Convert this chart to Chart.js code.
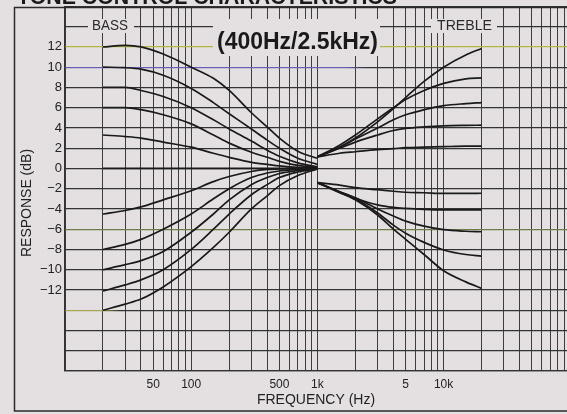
<!DOCTYPE html>
<html>
<head>
<meta charset="utf-8">
<script src="https://cdn.jsdelivr.net/npm/chart.js@4.4.1/dist/chart.umd.min.js"></script>
<style>
  html, body { margin: 0; padding: 0; background: #e4e0e1; overflow: hidden; }
  #chart { display: block; }
</style>
</head>
<body>
<canvas id="chart" width="567" height="414"></canvas>
<script>
// FREQUENCIES (Hz)
var bassFreq = [20, 30, 40, 60, 100, 150, 200, 300, 400, 500, 700, 1000];
var trebleFreq = [1000, 1500, 2000, 3000, 4000, 5000, 7000, 10000, 15000, 20000];

// BASS CURVES (dB)
var bassBoost1 = [12.0, 12.15, 12.0, 11.3, 10.0, 8.9, 7.7, 5.5, 4.1, 3.0, 1.7, 1.0];
var bassBoost2 = [10.0, 9.95, 9.8, 9.2, 7.9, 6.5, 5.4, 3.9, 2.8, 2.0, 1.0, 0.4];
var bassBoost3 = [8.0, 8.0, 7.7, 7.1, 6.0, 4.8, 3.9, 2.7, 1.8, 1.2, 0.55, 0.15];
var bassBoost4 = [6.0, 6.0, 5.8, 5.3, 4.4, 3.3, 2.5, 1.6, 1.1, 0.7, 0.3, 0.1];
var bassBoost5 = [3.3, 3.15, 3.0, 2.6, 2.1, 1.5, 1.1, 0.6, 0.4, 0.25, 0.1, 0.05];
var bassFlat   = [0, 0, 0, 0, 0, 0, 0, 0, 0, 0, 0, 0];
var bassCut1 = [-4.5, -4.15, -3.8, -3.1, -2.2, -1.3, -0.8, -0.3, -0.1, -0.05, 0, 0];
var bassCut2 = [-8.0, -7.5, -7.0, -6.0, -4.5, -3.0, -2.0, -0.9, -0.45, -0.25, -0.1, 0];
var bassCut3 = [-10.0, -9.5, -9.1, -8.2, -6.3, -4.5, -3.1, -1.6, -0.9, -0.5, -0.2, 0];
var bassCut4 = [-12.1, -11.5, -11.0, -10.0, -8.0, -6.0, -4.5, -2.6, -1.6, -0.9, -0.35, 0];
var bassCut5 = [-14.0, -13.4, -12.9, -11.7, -9.7, -7.8, -6.3, -4.0, -2.7, -1.7, -0.7, -0.05];

// TREBLE CURVES (dB)
var trebleBoost1 = [1.15, 2.1, 3.0, 4.6, 5.9, 7.0, 8.6, 10.0, 11.2, 11.85];
var trebleBoost2 = [1.15, 2.3, 3.3, 4.9, 6.0, 6.8, 7.7, 8.4, 8.85, 8.95];
var trebleBoost3 = [1.15, 2.1, 2.9, 4.0, 4.8, 5.3, 5.8, 6.2, 6.4, 6.5];
var trebleBoost4 = [1.15, 2.0, 2.6, 3.3, 3.75, 3.95, 4.1, 4.2, 4.25, 4.27];
var trebleBoost5 = [1.15, 1.5, 1.65, 1.85, 1.95, 2.05, 2.1, 2.15, 2.2, 2.2];
var trebleCut1 = [-1.4, -1.65, -1.9, -2.1, -2.25, -2.35, -2.4, -2.47, -2.47, -2.45];
var trebleCut2 = [-1.4, -2.4, -2.95, -3.6, -3.85, -3.95, -4.05, -4.1, -4.1, -4.1];
var trebleCut3 = [-1.4, -2.3, -2.9, -4.0, -4.7, -5.2, -5.7, -6.05, -6.2, -6.25];
var trebleCut4 = [-1.4, -2.3, -3.0, -4.4, -5.6, -6.4, -7.3, -8.05, -8.5, -8.65];
var trebleCut5 = [-1.4, -2.35, -3.1, -4.6, -6.0, -7.0, -8.5, -10.1, -11.2, -11.85];

// TICK LABELS
var xTickValues = [50, 100, 500, 1000, 5000, 10000];
var xTickLabels = ['50', '100', '500', '1k', '5', '10k'];
var yTickMin = -12;
var yTickMax = 12;

var paper = '#e4e0e1';
var ink = '#1a1a1a';
var fontFamily = "'Liberation Sans', Arial, sans-serif";

Chart.defaults.font.family = fontFamily;
Chart.defaults.color = '#2a2a2a';

// log grid: 10, 20 ... 90, 100, 200 ... 90000
var gridFreqs = [];
[10, 100, 1000, 10000].forEach(function(decade) {
    for (var k = 1; k <= 9; k++) gridFreqs.push(k * decade);
});

function points(freqs, vals) {
    return freqs.map(function(f, i) { return {x: f, y: vals[i]}; });
}

var curves = [
    [bassFreq, bassBoost1], [bassFreq, bassBoost2], [bassFreq, bassBoost3],
    [bassFreq, bassBoost4], [bassFreq, bassBoost5], [bassFreq, bassFlat],
    [bassFreq, bassCut1], [bassFreq, bassCut2], [bassFreq, bassCut3],
    [bassFreq, bassCut4], [bassFreq, bassCut5],
    [trebleFreq, trebleBoost1], [trebleFreq, trebleBoost2], [trebleFreq, trebleBoost3],
    [trebleFreq, trebleBoost4], [trebleFreq, trebleBoost5],
    [trebleFreq, trebleCut1], [trebleFreq, trebleCut2], [trebleFreq, trebleCut3],
    [trebleFreq, trebleCut4], [trebleFreq, trebleCut5]
];

var datasets = curves.map(function(c) {
    return {
        data: points(c[0], c[1]),
        borderColor: ink,
        borderWidth: 1.7,
        pointRadius: 0,
        fill: false,
        cubicInterpolationMode: 'monotone'
    };
});

// horizontal lines carry some colour fringing from the scan
function hLineColor(c) {
    var v = c.tick.value;
    if (v === 12) return '#b4b642';
    if (v === -6) return '#6e7c46';
    if (v === 10 || v === -14) {
        var g = c.chart.ctx.createLinearGradient(65, 0, 567, 0);
        var tint = v === 10 ? '#6a5fb4' : '#a8a656';
        var stop = v === 10 ? 0.56 : 0.07;
        g.addColorStop(0, tint);
        g.addColorStop(stop, tint);
        g.addColorStop(stop + 0.04, '#333333');
        g.addColorStop(1, '#333333');
        return g;
    }
    return '#333333';
}

function drawFit(ctx, text, font, cx, cy, width) {
    ctx.save();
    ctx.font = font;
    var w = ctx.measureText(text).width;
    ctx.translate(cx, cy);
    ctx.scale(width / w, 1);
    ctx.textAlign = 'center';
    ctx.textBaseline = 'middle';
    ctx.fillText(text, 0, 0);
    ctx.restore();
}

var paperPlugin = {
    id: 'paper',
    beforeDraw: function(chart) {
        var ctx = chart.ctx;
        ctx.save();
        ctx.fillStyle = paper;
        ctx.fillRect(0, 0, chart.width, chart.height);
        ctx.restore();
    },
    beforeDatasetsDraw: function(chart) {
        var ctx = chart.ctx;
        ctx.save();
        ctx.fillStyle = paper;
        ctx.fillRect(213, 19, 167, 37);
        ctx.fillRect(88, 19, 46, 14);
        ctx.fillRect(431, 19, 66, 14);
        ctx.fillStyle = '#1a1a1a';
        drawFit(ctx, '(400Hz/2.5kHz)', 'bold 24px ' + fontFamily, 297.5, 42, 161);
        ctx.fillStyle = '#2a2a2a';
        drawFit(ctx, 'BASS', '15px ' + fontFamily, 110, 26, 36);
        drawFit(ctx, 'TREBLE', '15px ' + fontFamily, 464.5, 26, 55);
        ctx.restore();
    },
    afterDraw: function(chart) {
        var ctx = chart.ctx;
        ctx.save();
        ctx.strokeStyle = '#2a2a2a';
        ctx.lineWidth = 1.5;
        ctx.strokeRect(14.5, 7.5, 570, 403.5);
        // y axis title, sits a little below the middle of the plot
        ctx.fillStyle = '#222222';
        ctx.font = '14px ' + fontFamily;
        ctx.translate(27, 203);
        ctx.rotate(-Math.PI / 2);
        ctx.textAlign = 'center';
        ctx.textBaseline = 'middle';
        ctx.fillText('RESPONSE (dB)', 0, 0);
        ctx.restore();

        // page heading, cut off by the top edge
        ctx.save();
        ctx.fillStyle = '#1a1a1a';
        ctx.font = 'bold 22px ' + fontFamily;
        var w = ctx.measureText('TONE CONTROL CHARACTERISTICS').width;
        ctx.translate(17, 4);
        ctx.scale(380 / w, 1);
        ctx.textAlign = 'left';
        ctx.textBaseline = 'alphabetic';
        ctx.fillText('TONE CONTROL CHARACTERISTICS', 0, 0);
        ctx.restore();
    }
};

var chart = new Chart(document.getElementById('chart').getContext('2d'), {
    type: 'line',
    data: { datasets: datasets },
    plugins: [paperPlugin],
    options: {
        responsive: false,
        animation: false,
        devicePixelRatio: 1,
        layout: {
            padding: { left: 14, top: 6.4, right: 0, bottom: 3 }
        },
        plugins: {
            legend: { display: false },
            tooltip: { enabled: false }
        },
        scales: {
            x: {
                type: 'logarithmic',
                min: 10,
                max: 95000,
                afterBuildTicks: function(scale) {
                    scale.ticks = gridFreqs.map(function(v) { return {value: v}; });
                },
                afterFit: function(scale) {
                    scale.height = 40;
                    scale.paddingLeft = 0;
                    scale.paddingRight = 0;
                },
                grid: { color: '#3c3c3c', lineWidth: 1, drawTicks: false },
                border: { display: true, color: '#333333', width: 1.2 },
                ticks: {
                    autoSkip: false,
                    maxRotation: 0,
                    padding: 6,
                    color: '#222222',
                    font: { size: 12 },
                    callback: function(v) {
                        var i = xTickValues.indexOf(v);
                        return i < 0 ? '' : xTickLabels[i];
                    }
                },
                title: {
                    display: true,
                    text: 'FREQUENCY (Hz)',
                    color: '#222222',
                    font: { size: 14 },
                    padding: { top: 0, bottom: 2.6 }
                }
            },
            y: {
                min: -20,
                max: 16,
                afterFit: function(scale) {
                    scale.width = 51;
                    scale.paddingTop = 0;
                    scale.paddingBottom = 0;
                },
                grid: { color: hLineColor, lineWidth: 1.2, drawTicks: false },
                border: { display: true, color: '#333333', width: 1.2 },
                ticks: {
                    stepSize: 2,
                    padding: 3,
                    color: '#222222',
                    font: { size: 13 },
                    callback: function(v) {
                        v = Math.round(v);
                        if (v < yTickMin || v > yTickMax) return '';
                        return v < 0 ? '\u2212' + Math.abs(v) : String(v);
                    }
                },
                title: { display: false, text: 'RESPONSE (dB)' }
            }
        }
    }
});
</script>
</body>
</html>
